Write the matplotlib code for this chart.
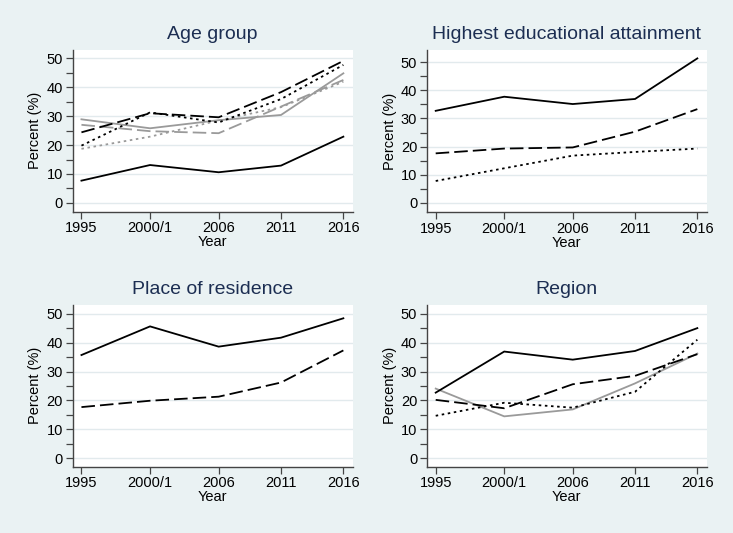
import numpy as np
import matplotlib
matplotlib.use('Agg')
import matplotlib.pyplot as plt

plt.rcParams['font.family'] = ['Liberation Sans', 'DejaVu Sans']

# x positions (2000/1 sits halfway between 2000 and 2001)
years = [1995, 2000.5, 2006, 2011, 2016]
year_labels = ['1995', '2000/1', '2006', '2011', '2016']

# Age group
age_black_solid = [7.7, 13.1, 10.6, 12.9, 22.9]
age_black_dash = [24.4, 31.0, 29.6, 38.3, 49.1]
age_black_dot = [19.8, 31.3, 27.8, 35.9, 47.7]
age_gray_solid = [28.9, 25.8, 28.6, 30.4, 44.8]
age_gray_dash = [27.0, 24.8, 24.1, 33.3, 42.5]
age_gray_dot = [18.7, 22.9, 28.5, 33.1, 41.9]

# Highest educational attainment
edu_solid = [32.7, 37.7, 35.1, 36.9, 51.3]
edu_dash = [17.6, 19.3, 19.7, 25.3, 33.3]
edu_dot = [7.8, 12.3, 16.8, 18.1, 19.3]

# Place of residence
res_solid = [35.7, 45.6, 38.6, 41.7, 48.4]
res_dash = [17.7, 19.9, 21.3, 26.2, 37.3]

# Region
reg_solid = [22.7, 36.9, 34.1, 37.1, 45.0]
reg_dash = [20.2, 17.3, 25.6, 28.5, 36.0]
reg_dot = [14.7, 19.2, 17.5, 23.0, 41.0]
reg_gray_solid = [24.1, 14.5, 16.9, 25.9, 36.2]

BG = '#eaf2f3'
GRID = '#e2eaed'
TITLE = '#1c2e52'
GRAY = '#9a9a9a'
LW = 1.3
DASH = (7.5, 2.8)
DOT = (1.4, 2.0)


def line(ax, y, color='black', style='solid'):
    ln, = ax.plot(years, y, color=color, lw=LW, solid_joinstyle='miter')
    if style == 'dash':
        ln.set_dashes(DASH)
    elif style == 'dot':
        ln.set_dashes(DOT)


def style_axes(ax, title, ylim):
    ax.set_facecolor('white')
    ax.set_xlim(1994.3, 2016.75)
    ax.set_ylim(*ylim)
    ax.set_xticks(years)
    ax.set_xticklabels(year_labels)
    ax.set_yticks(range(0, 51, 10))
    ax.set_yticks(range(5, 51, 10), minor=True)
    ax.grid(axis='y', color=GRID, lw=1.0)
    ax.set_axisbelow(True)
    for s in ['top', 'right']:
        ax.spines[s].set_visible(False)
    for s in ['left', 'bottom']:
        ax.spines[s].set_color('#444444')
        ax.spines[s].set_linewidth(1.0)
    ax.tick_params(axis='both', which='major', length=5, width=0.9,
                   color='#444444', labelsize=10.5, pad=2)
    ax.tick_params(axis='y', which='minor', length=5, width=0.9, color='#444444')
    ax.set_xlabel('Year', fontsize=10.5, labelpad=0)
    ax.set_ylabel('Percent (%)', fontsize=10.5, labelpad=3)
    ax.set_title(title, fontsize=14, color=TITLE, pad=8)


fig = plt.figure(figsize=(7.33, 5.33), dpi=100)
fig.patch.set_facecolor(BG)

ax1 = fig.add_axes([0.0992, 0.603, 0.382, 0.3034])
ax2 = fig.add_axes([0.5825, 0.6023, 0.3816, 0.304])
ax3 = fig.add_axes([0.0992, 0.1244, 0.382, 0.3034])
ax4 = fig.add_axes([0.5825, 0.1244, 0.3816, 0.3034])

line(ax1, age_gray_dot, GRAY, 'dot')
line(ax1, age_gray_dash, GRAY, 'dash')
line(ax1, age_gray_solid, GRAY)
line(ax1, age_black_solid)
line(ax1, age_black_dash, style='dash')
line(ax1, age_black_dot, style='dot')
style_axes(ax1, 'Age group', (-3.0, 52.9))

line(ax2, edu_solid)
line(ax2, edu_dash, style='dash')
line(ax2, edu_dot, style='dot')
style_axes(ax2, 'Highest educational attainment', (-3.2, 54.3))

line(ax3, res_solid)
line(ax3, res_dash, style='dash')
style_axes(ax3, 'Place of residence', (-2.9, 53.0))

line(ax4, reg_gray_solid, GRAY)
line(ax4, reg_solid)
line(ax4, reg_dash, style='dash')
line(ax4, reg_dot, style='dot')
style_axes(ax4, 'Region', (-2.9, 53.0))

fig.savefig('out.png', dpi=100, facecolor=BG)
